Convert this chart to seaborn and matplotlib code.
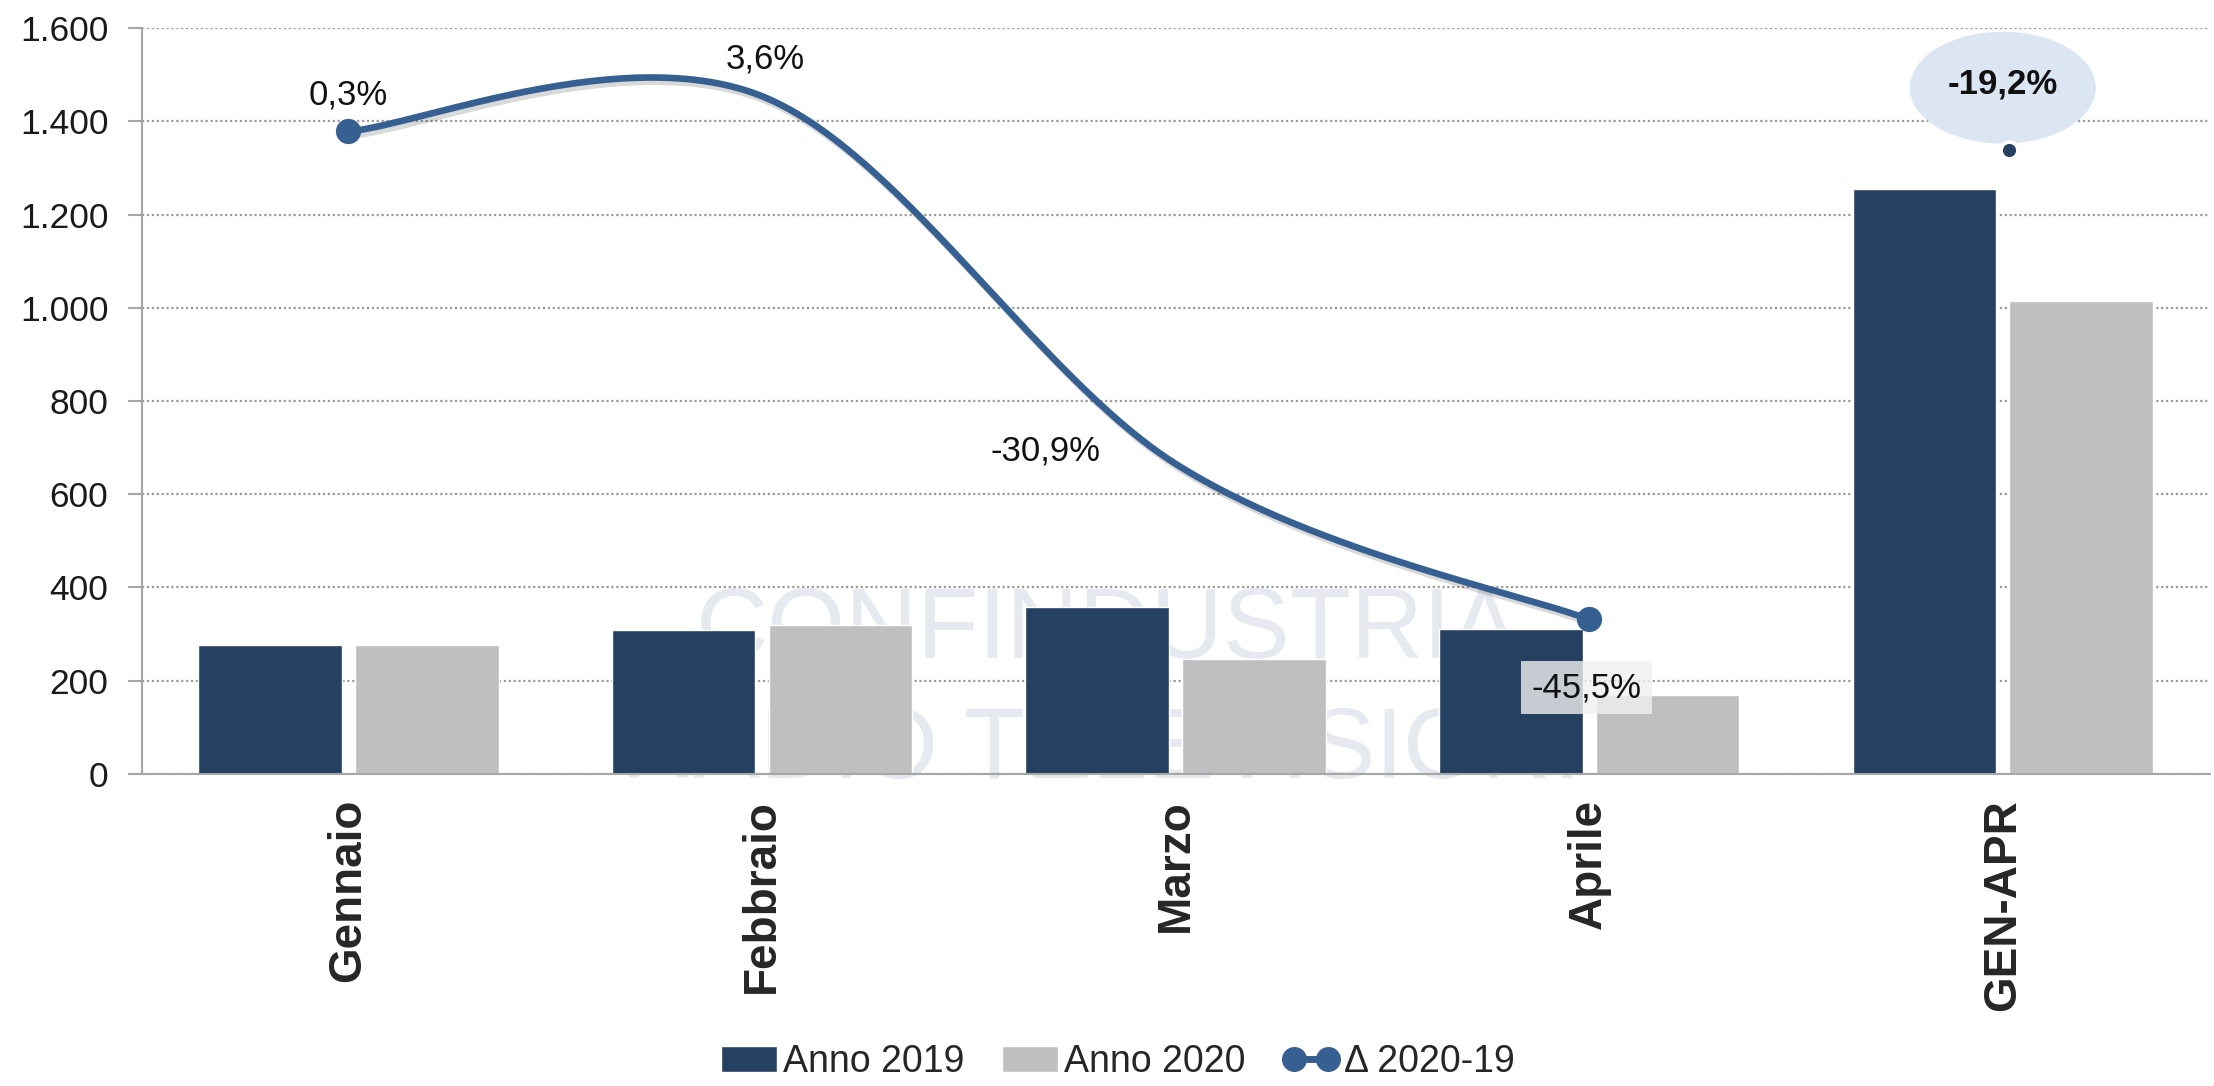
import numpy as np
import pandas as pd
import matplotlib
matplotlib.use("Agg")
import matplotlib.pyplot as plt
import matplotlib.patheffects as pe
import matplotlib.transforms as mtransforms
from matplotlib.patches import Patch, Ellipse
from matplotlib.lines import Line2D
from matplotlib.ticker import FuncFormatter, FixedLocator
import seaborn as sns

# dati (lettura dal grafico)
mesi = ['Gennaio', 'Febbraio', 'Marzo', 'Aprile', 'GEN-APR']
anno_2019 = [276, 309, 358, 312, 1255]
anno_2020 = [277, 320, 247, 170, 1014]
delta = [0.3, 3.6, -30.9, -45.5]          # variazione % mensile (linea)
delta_label = ['0,3%', '3,6%', '-30,9%', '-45,5%']
delta_totale = '-19,2%'

NAVY = '#264061'
GRIGIO = '#bfbfbf'
BLU = '#376092'

sns.set_style('white')
plt.rcParams['font.family'] = ['Liberation Sans', 'DejaVu Sans']

df = pd.DataFrame({
    'mese': mesi * 2,
    'valore': anno_2019 + anno_2020,
    'anno': ['Anno 2019'] * len(mesi) + ['Anno 2020'] * len(mesi),
})


def curva_smussata(xs, ys, n=60):
    # spline tipo Excel (Catmull-Rom -> Bezier)
    pts = np.column_stack([xs, ys]).astype(float)
    ext = np.vstack([pts[0], pts, pts[-1]])
    out = []
    t = np.linspace(0, 1, n)[:, None]
    for i in range(1, len(ext) - 2):
        p0, p1, p2, p3 = ext[i - 1], ext[i], ext[i + 1], ext[i + 2]
        c1 = p1 + (p2 - p0) / 6
        c2 = p2 - (p3 - p1) / 6
        seg = ((1 - t) ** 3) * p1 + 3 * ((1 - t) ** 2) * t * c1 + 3 * (1 - t) * t ** 2 * c2 + t ** 3 * p2
        out.append(seg if i == 1 else seg[1:])
    out = np.vstack(out)
    return out[:, 0], out[:, 1]


fig = plt.figure(figsize=(22.14, 10.86), dpi=100)
ax = fig.add_axes([0.064, 0.2873, 0.934, 0.6869])

sns.barplot(data=df, x='mese', y='valore', hue='anno', palette=[NAVY, GRIGIO],
            saturation=1, width=0.758, gap=0.084, legend=False, ax=ax, zorder=2)

ax.set_xlim(-0.5, len(mesi) - 0.5)
ax.set_ylim(0, 1600)
ax.set_yticks(np.arange(0, 1601, 200))
ax.yaxis.set_major_formatter(FuncFormatter(lambda v, p: f"{int(v):,}".replace(',', '.')))
ax.set_xlabel('')
ax.set_ylabel('')

ax.yaxis.grid(True, linestyle=(0, (1, 1.2)), color='#9a9a9a', linewidth=1.6, zorder=1)
ax.set_axisbelow(True)
for s in ['top', 'right']:
    ax.spines[s].set_visible(False)
for s in ['left', 'bottom']:
    ax.spines[s].set_color('#a6a6a6')
    ax.spines[s].set_linewidth(1.5)

ax.tick_params(axis='y', length=10, width=1.5, color='#a6a6a6', pad=14, labelsize=25.5, labelcolor='#1a1a1a')
ax.tick_params(axis='x', which='major', length=0, pad=18)
ax.xaxis.set_minor_locator(FixedLocator(np.arange(-0.5, len(mesi), 1)))
ax.tick_params(axis='x', which='minor', length=11, width=1.5, color='#a6a6a6')
for lab in ax.get_xticklabels():
    lab.set_rotation(90)
    lab.set_fontsize(33)
    lab.set_fontweight('bold')
    lab.set_va('top')

# filigrana
ax.text(0.467, 0.19, 'CONFINDUSTRIA', transform=ax.transAxes, ha='center', va='center',
        fontsize=72, color='#e6e9ef', zorder=0.5, clip_on=False)
ax.text(0.464, 0.03, 'RADIO TELEVISIONI', transform=ax.transAxes, ha='center', va='center',
        fontsize=72, color='#e6e9ef', zorder=0.5, clip_on=False)

# linea variazione %
ax2 = ax.twinx()
ax2.set_ylim(-60, 10)
ax2.axis('off')
xs = np.arange(len(delta))
cx, cy = curva_smussata(xs, delta)
ombra = [pe.SimpleLineShadow(offset=(2, -3), shadow_color='black', alpha=0.15), pe.Normal()]
sns.lineplot(x=cx, y=cy, sort=False, estimator=None, color=BLU, linewidth=4.8, ax=ax2,
             path_effects=ombra)
sns.scatterplot(x=[xs[0], xs[-1]], y=[delta[0], delta[-1]], color=BLU, s=330, linewidth=0,
                ax=ax2, zorder=5)

offsets = [(0, 26), (2, 27), (-94, 9), (-2, -49)]
for i, (lab, off) in enumerate(zip(delta_label, offsets)):
    kw = {}
    if i == 3:
        kw['bbox'] = dict(boxstyle='square,pad=0.3', fc='#f0f0f0', ec='none', alpha=0.8)
    ax2.annotate(lab, (xs[i], delta[i]), xytext=off, textcoords='offset points',
                 ha='center', va='center', fontsize=25, color='#111111', zorder=6, **kw)

# fumetto GEN-APR
tr = mtransforms.blended_transform_factory(ax2.transData, ax2.transAxes)
ax2.add_patch(Ellipse((4, 0.92), width=0.45, height=0.15, transform=tr,
                      facecolor='#dce6f2', edgecolor='none', zorder=4))
ax2.text(4, 0.925, delta_totale, transform=tr, ha='center', va='center',
         fontsize=25, fontweight='bold', color='#111111', zorder=6)
ax2.plot([4.015], [0.8365], marker='o', markersize=12, color=NAVY, markeredgecolor='white',
         markeredgewidth=2.5, transform=tr, zorder=6, clip_on=False)

handles = [Patch(facecolor=NAVY, label='Anno 2019'),
           Patch(facecolor=GRIGIO, label='Anno 2020'),
           Line2D([0], [0], color=BLU, linewidth=5, marker='o', markersize=17,
                  label='\u0394 2020-19')]
fig.legend(handles=handles, loc='center', bbox_to_anchor=(0.505, 0.022), ncol=3, frameon=False,
           fontsize=27, numpoints=2, handlelength=1.5, handleheight=0.7, handletextpad=0.15,
           columnspacing=1.0)

fig.savefig('out.png', dpi=100, facecolor='white')
